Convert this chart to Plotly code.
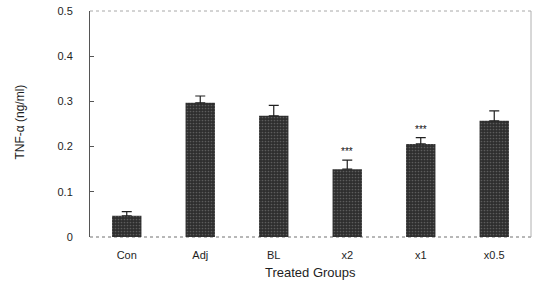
import plotly.graph_objects as go

groups = ["Con", "Adj", "BL", "x2", "x1", "x0.5"]
tnf_mean = [0.047, 0.297, 0.268, 0.150, 0.206, 0.257]
tnf_err = [0.009, 0.015, 0.023, 0.020, 0.014, 0.022]
significance = ["", "", "", "***", "***", ""]
y_ticks = [0, 0.1, 0.2, 0.3, 0.4, 0.5]
y_tick_labels = ["0", "0.1", "0.2", "0.3", "0.4", "0.5"]

font = "Liberation Sans, Arial, sans-serif"
ink = "#1e1e1e"

fig = go.Figure()
fig.add_trace(go.Bar(
    x=groups, y=tnf_mean, width=0.4,
    marker=dict(color="#3a3a3a", line=dict(width=0),
                pattern=dict(shape=".", bgcolor="#2e2e2e", fgcolor="#8a8a8a",
                             size=3, solidity=0.25)),
    error_y=dict(type="data", array=tnf_err, arrayminus=[0]*len(tnf_err),
                 symmetric=False, color="#202020", thickness=1.2, width=5),
    showlegend=False,
))

for g, m, e, s in zip(groups, tnf_mean, tnf_err, significance):
    if s:
        fig.add_annotation(x=g, y=m + e, text=s, showarrow=False, yanchor="bottom",
                           yshift=1, font=dict(family=font, size=10, color="#111111"))

# y-axis title and x-axis title
fig.add_annotation(xref="paper", yref="paper", x=-0.159, y=0.51, text="TNF-α (ng/ml)",
                   textangle=-90, showarrow=False, xanchor="center", yanchor="middle",
                   font=dict(family=font, size=12, color=ink))
fig.add_annotation(xref="paper", yref="paper", x=0.5, y=-0.159, text="Treated Groups",
                   showarrow=False, xanchor="center", yanchor="middle",
                   font=dict(family=font, size=13, color=ink))

# faint frame: top dotted, right light, bottom dotted
fig.add_shape(type="line", xref="paper", yref="paper", x0=0, x1=1, y0=1, y1=1,
              line=dict(color="#a8a8a8", width=1, dash="dot"))
fig.add_shape(type="line", xref="paper", yref="paper", x0=1, x1=1, y0=0, y1=1,
              line=dict(color="#b0b0b0", width=1))
fig.add_shape(type="line", xref="paper", yref="paper", x0=0, x1=1, y0=0, y1=0,
              line=dict(color="#707070", width=1, dash="dot"), layer="below")

fig.update_layout(
    width=533, height=290,
    margin=dict(l=90, r=2, t=11, b=53),
    paper_bgcolor="white", plot_bgcolor="white",
    font=dict(family=font, size=11, color=ink),
    bargap=0.6,
    xaxis=dict(range=[-0.5, 5.5], showline=False, showgrid=False, zeroline=False,
               ticks="", tickfont=dict(size=11), ticklabelstandoff=10),
    yaxis=dict(range=[0, 0.5], tickvals=y_ticks, ticktext=y_tick_labels,
               showline=True, linecolor="#555555", linewidth=1, mirror=False,
               ticks="inside", ticklen=4, tickcolor="#555555",
               showgrid=False, zeroline=False, ticklabelstandoff=14,
               tickfont=dict(size=11)),
)

fig.write_html("out.html", config={"displayModeBar": False},
               post_script="document.body.style.margin='0';")
